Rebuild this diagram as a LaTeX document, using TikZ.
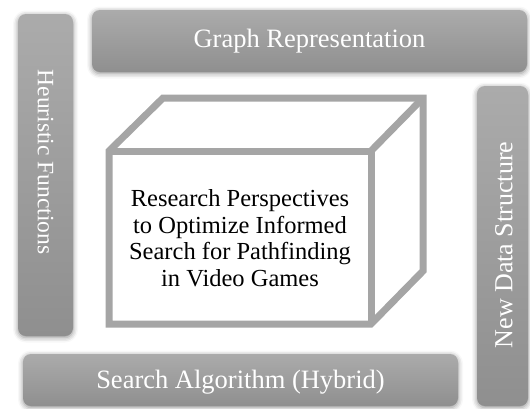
\documentclass[tikz,border=0pt]{standalone}
\usepackage{fontspec}
\setmainfont{Liberation Serif}
\usetikzlibrary{shadows.blur}
\definecolor{barlight}{HTML}{ABABAB}
\definecolor{bardark}{HTML}{8F8F8F}
\definecolor{cubeline}{HTML}{A5A5A5}
\tikzset{
  x=1pt, y=-1pt,
  barbox/.style={rounded corners=8pt, inner sep=0pt, top color=barlight, bottom color=bardark,
    blur shadow={shadow xshift=0pt, shadow yshift=-1.5pt, shadow blur radius=5pt, shadow opacity=45}},
  bartext/.style={text=white, inner sep=0pt},
  cubestroke/.style={draw=cubeline, line width=7pt, line join=miter},
}
\begin{document}
\begin{tikzpicture}
\useasboundingbox (0,0) rectangle (530,408);
% bars
\node[barbox, minimum width=435pt, minimum height=62pt] (barT) at (309.5,41) {};
\node[barbox, minimum width=322pt, minimum height=55pt, rotate=-90] (barL) at (45.5,175) {};
\node[barbox, minimum width=320pt, minimum height=51pt, rotate=90] (barR) at (502.5,246) {};
\node[barbox, minimum width=435pt, minimum height=52pt] (barB) at (240.5,380) {};
\node[bartext, font=\fontsize{26.5}{30}\selectfont] (tT) at (barT.center) {Graph Representation};
\node[bartext, font=\fontsize{23.5}{28}\selectfont, rotate=-90] (tL) at (45.5,162) {Heuristic Functions};
\node[bartext, font=\fontsize{26}{30}\selectfont, rotate=90] (tR) at (504,245) {New Data Structure};
\node[bartext, font=\fontsize{26.5}{30}\selectfont] (tB) at (240.5,382) {Search Algorithm (Hybrid)};
% cube
\coordinate (fTL) at (109,151);
\coordinate (fTR) at (371,151);
\coordinate (fBR) at (371,324);
\coordinate (fBL) at (109,324);
\coordinate (bTL) at (163,98);
\coordinate (bTR) at (423,98);
\coordinate (bBR) at (423,271);
\filldraw[cubestroke, fill=white] (fTL) -- (bTL) -- (bTR) -- (bBR) -- (fBR) -- (fBL) -- cycle;
\draw[cubestroke] (fTL) -- (fTR) -- (fBR);
\draw[cubestroke] (fTR) -- (bTR);
\node[align=center, inner sep=0pt, font=\fontsize{24.5}{26.5}\selectfont] (title) at (240,238)
  {Research Perspectives\\to Optimize Informed\\Search for Pathfinding\\in Video Games};
\end{tikzpicture}
\end{document}
